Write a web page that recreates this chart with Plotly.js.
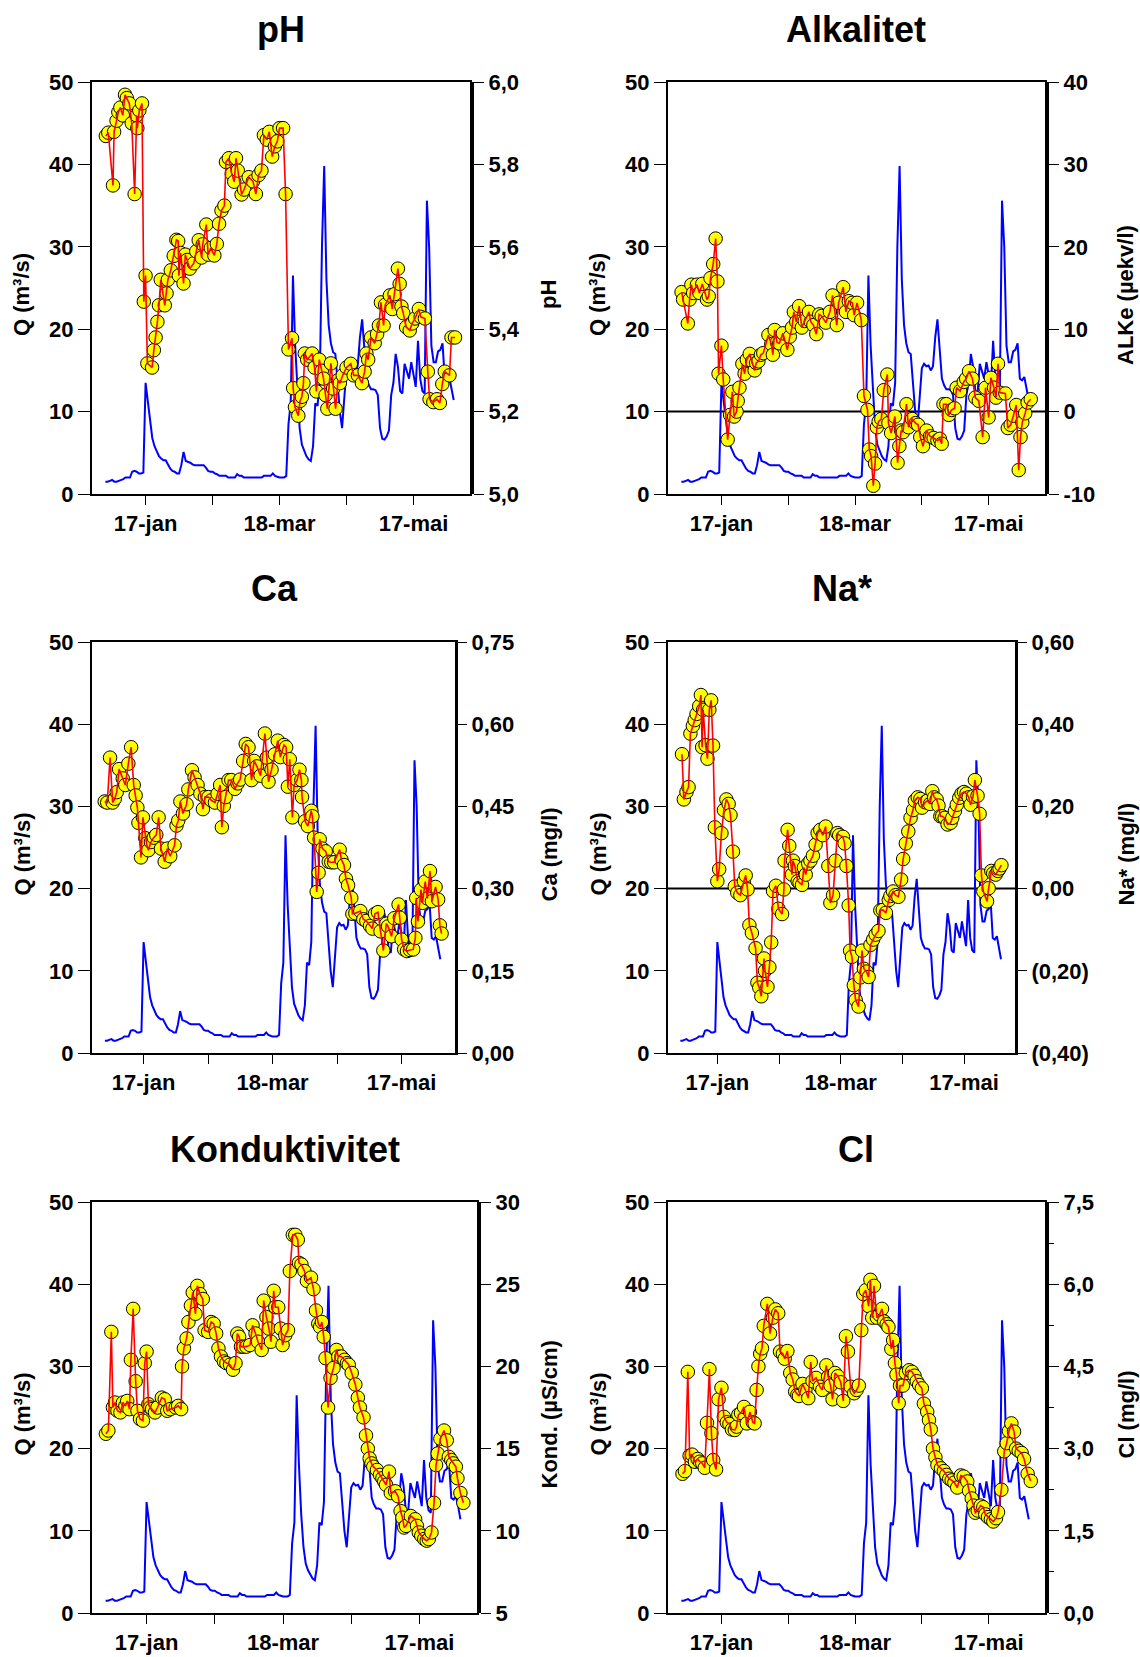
<!DOCTYPE html>
<html><head><meta charset="utf-8">
<script src="https://cdn.plot.ly/plotly-3.0.1.min.js"></script>
<style>body{margin:0;background:#fff}#chart{width:1140px;height:1657px}</style>
</head><body><div id="chart"></div>
<script>
// ---------------- DATA ----------------
// x values are day numbers counted from 1 January (17 = 17-jan, 77 = 18-mar, 137 = 17-mai)
const xTickVals = [17, 47, 77, 107, 137];
const xTickText = ['17-jan', '', '18-mar', '', '17-mai'];

// Daily discharge Q (m3/s), first day = 30 December (day -1)
const qFirstDay = -1;
const qVal = [1.5,1.5,1.6,1.7,1.5,1.5,1.6,1.7,1.8,2.0,
  2.0,2.0,2.7,2.8,2.7,2.5,2.5,2.6,13.5,11.0,
  8.7,6.8,5.8,5.2,4.6,4.3,4.1,4.1,3.5,3.1,
  2.8,2.7,2.5,2.5,3.5,5.1,4.0,3.9,3.8,3.6,
  3.5,3.5,3.5,3.5,3.5,3.2,2.8,2.7,2.7,2.5,
  2.4,2.2,2.2,2.2,2.2,2.0,2.0,2.0,2.0,2.4,
  2.2,2.2,2.0,2.0,2.0,2.0,2.0,2.0,2.0,2.0,
  2.0,2.2,2.2,2.2,2.2,2.5,2.2,2.1,2.0,2.0,
  2.0,2.2,8.5,11.0,26.5,18.0,12.0,8.0,6.0,5.2,
  4.6,4.2,4.0,5.8,11.0,10.7,13.5,30.0,39.8,26.0,
  20.5,18.3,17.2,17.0,13.5,10.0,8.0,12.0,15.3,15.8,
  15.5,15.6,15.0,15.5,19.0,21.2,17.0,14.0,13.2,12.7,
  12.7,12.6,12.0,8.0,6.7,6.6,7.0,7.7,12.0,13.5,
  17.0,15.5,12.5,12.2,15.8,15.0,14.0,16.0,14.5,13.0,
  18.6,14.0,12.5,12.2,35.6,30.0,18.0,16.0,16.0,17.3,
  17.5,18.3,14.0,13.8,14.2,13.0,11.4];
const qTicks = [0, 10, 20, 30, 40, 50];
const qTickText = ['0', '10', '20', '30', '40', '50'];

const phDay = [-0.8,0.3,2.4,2.9,4.0,4.8,5.7,6.8,7.8,8.6,
  9.7,10.8,12.1,13.0,13.3,14.2,15.4,16.2,17.0,17.8,
  19.9,20.7,21.5,22.3,23.0,23.8,25.6,26.4,27.0,28.3,
  29.6,30.8,31.6,31.9,32.7,34.0,34.8,35.6,36.8,38.6,
  39.7,40.8,42.1,42.6,44.2,45.0,46.2,47.8,48.9,49.9,
  51.0,52.3,53.0,54.3,55.6,56.7,57.5,58.3,60.0,61.1,
  63.2,65.1,66.4,67.6,68.9,70.0,71.3,72.4,73.7,74.9,
  76.0,77.0,78.6,79.7,81.0,82.6,83.1,83.9,85.4,86.2,
  87.0,87.7,88.3,89.4,90.7,91.6,92.7,93.5,94.8,95.9,
  96.7,97.6,98.4,100.0,101.0,102.1,103.2,104.0,105.3,107.0,
  108.9,110.2,112.1,113.9,115.1,115.9,116.7,118.0,119.6,120.7,
  121.5,122.4,123.6,124.3,126.4,127.5,128.5,130.0,130.8,131.6,
  132.4,133.7,135.3,136.4,137.7,139.4,140.2,142.1,143.4,144.2,
  145.9,147.5,148.8,149.9,151.0,153.1,154.0,155.6];
const phVal = [5.869,5.877,5.749,5.879,5.906,5.927,5.938,5.919,5.969,5.961,
  5.948,5.900,5.728,5.919,5.888,5.931,5.948,5.467,5.530,5.317,
  5.307,5.349,5.380,5.418,5.458,5.520,5.458,5.487,5.520,5.543,
  5.578,5.617,5.614,5.530,5.585,5.511,5.581,5.568,5.547,5.560,
  5.589,5.616,5.574,5.606,5.654,5.581,5.597,5.579,5.607,5.656,
  5.688,5.700,5.806,5.815,5.777,5.758,5.815,5.785,5.727,5.739,
  5.769,5.759,5.728,5.774,5.785,5.871,5.860,5.879,5.819,5.844,
  5.856,5.888,5.888,5.728,5.351,5.378,5.257,5.211,5.190,5.226,
  5.236,5.269,5.341,5.326,5.334,5.341,5.307,5.249,5.326,5.299,
  5.280,5.240,5.207,5.317,5.256,5.207,5.276,5.269,5.288,5.307,
  5.316,5.288,5.288,5.269,5.297,5.341,5.326,5.380,5.366,5.388,
  5.409,5.465,5.409,5.459,5.482,5.449,5.485,5.547,5.510,5.455,
  5.439,5.405,5.397,5.414,5.426,5.449,5.430,5.426,5.297,5.230,
  5.223,5.230,5.221,5.267,5.297,5.288,5.380,5.380];
const phTicks = [5.0, 5.2, 5.4, 5.6, 5.8, 6.0];
const phTickText = ['5,0', '5,2', '5,4', '5,6', '5,8', '6,0'];

const alkDay = [-0.9,-0.2,1.9,2.7,3.5,4.3,6.0,7.1,8.4,10.5,
  11.3,12.1,13.3,14.4,15.2,15.7,17.0,17.8,19.8,20.9,
  21.9,22.7,23.8,24.3,25.1,26.4,27.4,28.4,29.7,30.8,
  31.9,32.6,33.6,34.7,35.8,38.1,39.4,40.1,40.9,42.0,
  43.0,44.6,46.6,47.7,48.7,49.5,50.6,51.9,53.1,54.4,
  56.3,57.1,58.3,59.6,60.9,62.0,63.9,65.7,66.9,68.8,
  69.6,71.7,72.9,74.2,75.8,76.6,77.9,79.8,81.0,82.6,
  83.4,84.2,85.2,86.0,86.8,87.6,88.8,89.9,91.5,92.0,
  93.2,94.9,96.1,96.9,97.7,98.5,100.1,101.0,102.6,104.2,
  105.3,106.3,107.5,109.1,110.7,112.3,114.0,115.1,115.9,116.7,
  118.0,119.1,120.4,121.7,122.6,124.2,125.8,126.9,128.2,129.7,
  131.0,132.6,134.3,135.6,137.0,138.0,139.4,140.3,141.2,142.0,
  144.5,145.6,146.9,148.1,149.4,150.5,151.3,152.1,153.4,154.5,155.9];
const alkVal = [14.5,13.6,10.7,13.6,15.4,14.4,15.4,14.4,15.5,13.6,
  14.0,16.2,17.9,21.0,15.8,4.6,8.0,3.9,-3.4,-0.4,
  2.4,-0.6,0.0,1.3,2.9,5.8,4.6,6.3,7.0,6.1,
  5.0,5.9,6.1,6.9,7.1,9.3,8.2,6.9,9.9,8.4,
  8.3,9.5,7.5,9.1,10.2,12.1,10.9,12.8,10.2,11.0,
  12.1,10.9,10.5,9.4,11.8,11.6,10.8,12.1,14.1,10.5,
  13.2,15.1,12.1,13.4,13.2,11.7,13.2,11.1,1.9,0.2,
  -4.6,-5.4,-9.0,-6.3,-1.9,-1.2,-0.9,2.6,4.5,-1.4,
  -2.6,-0.6,-6.2,-4.2,-2.3,-2.5,0.9,-1.9,-0.9,-1.4,
  -1.6,-3.1,-4.2,-2.3,-3.0,-3.2,-3.5,-3.3,-3.9,0.9,
  0.9,-0.4,0.2,0.4,2.9,2.5,3.6,4.0,4.9,4.0,
  1.7,1.3,-3.1,2.9,-0.7,4.1,2.9,1.7,5.8,2.3,
  2.2,-2.0,-1.6,-0.5,0.8,-7.1,-3.1,-1.3,-0.2,1.1,1.5];
const alkTicks = [-10, 0, 10, 20, 30, 40];
const alkTickText = ['-10', '0', '10', '20', '30', '40'];

const caDay = [-1.1,0.1,1.4,2.6,3.6,4.5,5.6,7.3,8.5,9.9,
  11.2,12.4,13.3,14.1,14.6,15.8,16.7,17.8,18.4,19.2,
  20.4,21.7,22.9,24.0,25.1,26.8,28.0,29.4,31.4,32.3,
  33.1,34.1,35.3,37.0,37.8,39.5,40.7,42.1,43.4,44.6,
  45.5,47.2,48.5,50.2,51.4,52.6,53.4,54.3,55.1,56.5,
  57.8,59.5,60.7,61.9,63.3,64.5,65.8,67.2,68.4,69.7,
  71.4,73.4,74.3,75.1,76.5,78.0,79.4,80.6,82.3,83.3,
  84.1,85.0,86.2,87.0,88.4,89.5,90.4,90.7,92.1,93.4,
  95.0,95.5,96.3,97.5,98.4,98.9,100.2,101.7,103.1,104.3,
  105.6,108.2,109.0,110.2,111.1,112.1,113.6,114.1,115.5,117.8,
  119.2,120.6,122.3,123.4,124.6,126.0,127.2,128.5,129.9,130.7,
  132.3,133.6,135.6,136.2,137.0,138.2,139.5,140.9,142.4,143.4,
  143.8,144.6,146.0,146.7,148.0,149.0,150.2,151.1,152.8,154.0,154.8,155.6];
const caVal = [0.459,0.457,0.539,0.457,0.464,0.476,0.518,0.501,0.489,0.528,
  0.558,0.489,0.470,0.448,0.420,0.357,0.430,0.392,0.382,0.370,
  0.385,0.393,0.398,0.430,0.373,0.349,0.373,0.359,0.379,0.415,
  0.424,0.459,0.437,0.454,0.481,0.516,0.503,0.489,0.473,0.445,
  0.467,0.467,0.461,0.457,0.473,0.489,0.412,0.451,0.467,0.498,
  0.498,0.482,0.492,0.499,0.533,0.564,0.558,0.498,0.533,0.523,
  0.506,0.583,0.539,0.495,0.517,0.545,0.570,0.540,0.562,0.558,
  0.486,0.536,0.430,0.489,0.498,0.517,0.498,0.467,0.423,0.414,
  0.442,0.432,0.393,0.294,0.329,0.390,0.373,0.368,0.349,0.348,
  0.348,0.371,0.353,0.343,0.318,0.306,0.283,0.254,0.255,0.259,
  0.244,0.241,0.232,0.227,0.254,0.257,0.222,0.187,0.236,0.231,
  0.213,0.246,0.271,0.247,0.207,0.189,0.186,0.188,0.189,0.210,
  0.283,0.240,0.298,0.274,0.313,0.282,0.332,0.277,0.303,0.280,0.233,0.218];
const caTicks = [0, 0.15, 0.30, 0.45, 0.60, 0.75];
const caTickText = ['0,00', '0,15', '0,30', '0,45', '0,60', '0,75'];

const naDay = [-0.2,0.7,2.0,3.0,3.9,5.1,6.0,6.9,8.2,9.0,
  9.6,10.1,11.3,12.2,13.1,14.0,14.9,15.8,17.0,17.9,
  19.0,20.2,21.4,22.5,23.4,24.6,25.5,26.7,28.2,29.9,
  30.8,31.7,32.6,33.8,35.6,36.5,37.4,38.4,39.7,40.2,
  41.4,42.3,43.2,44.1,45.5,46.7,48.5,49.4,49.7,51.2,
  52.0,53.3,53.8,54.7,56.1,57.0,58.2,59.1,60.0,61.2,
  62.3,63.5,64.8,65.8,67.1,68.3,69.7,71.0,72.0,73.3,
  74.5,75.4,76.3,78.1,78.9,79.8,80.9,81.6,82.5,83.4,
  84.3,85.7,86.6,87.4,88.3,89.6,90.6,91.5,92.8,94.0,
  95.4,96.3,97.5,99.0,100.4,101.2,102.5,103.7,105.1,106.4,
  107.4,108.7,109.9,111.0,112.2,113.1,114.5,115.8,116.6,118.1,
  119.3,120.5,121.6,122.5,123.7,124.6,125.5,126.4,127.6,129.0,
  130.5,131.3,132.6,133.5,134.7,135.8,137.0,138.2,139.3,140.2,
  141.4,142.3,143.6,144.6,145.5,146.4,148.2,149.0,150.3,151.2,
  152.4,153.5,154.3,155.2];
const naVal = [0.327,0.217,0.235,0.247,0.377,0.396,0.410,0.425,0.444,0.471,
  0.344,0.435,0.349,0.316,0.435,0.458,0.348,0.149,0.018,0.047,
  0.135,0.191,0.217,0.206,0.179,0.090,0.005,-0.010,-0.016,0.018,
  0.032,-0.002,-0.089,-0.108,-0.145,-0.229,-0.241,-0.262,-0.170,-0.200,
  -0.239,-0.191,-0.131,-0.006,0.007,-0.049,-0.062,-0.002,0.068,0.143,
  0.104,0.034,0.068,0.055,0.018,0.014,0.009,0.051,0.034,0.061,
  0.068,0.080,0.107,0.135,0.143,0.130,0.151,0.055,-0.035,-0.016,
  0.068,0.135,0.130,0.126,0.110,0.055,-0.041,-0.151,-0.166,-0.235,
  -0.271,-0.287,-0.216,-0.151,-0.195,-0.202,-0.215,-0.137,-0.124,-0.112,
  -0.103,-0.053,-0.052,-0.059,-0.028,-0.018,-0.007,-0.016,-0.020,0.022,
  0.072,0.110,0.139,0.172,0.191,0.214,0.222,0.218,0.197,0.210,
  0.214,0.206,0.237,0.222,0.217,0.202,0.176,0.176,0.172,0.156,
  0.160,0.172,0.189,0.204,0.221,0.231,0.235,0.231,0.222,0.204,
  0.224,0.264,0.226,0.182,0.032,-0.007,-0.031,0.001,0.043,0.037,
  0.034,0.043,0.049,0.057];
const naTicks = [-0.40, -0.20, 0, 0.20, 0.40, 0.60];
const naTickText = ['(0,40)', '(0,20)', '0,00', '0,20', '0,40', '0,60'];

const kondDay = [-0.9,0.2,1.5,2.2,3.1,4.2,5.5,6.6,7.7,8.5,
  9.5,10.1,11.1,12.2,13.0,14.1,15.4,16.2,17.0,17.8,
  18.6,19.4,20.7,21.8,23.7,25.0,26.1,27.4,29.8,30.9,
  32.2,32.6,33.4,34.6,35.4,36.5,37.3,38.5,39.3,40.5,
  41.7,42.5,44.1,45.4,46.5,47.6,48.6,49.7,51.0,52.1,
  53.7,55.0,56.1,56.9,57.7,58.5,59.6,60.9,62.5,63.6,
  64.9,66.0,67.6,68.5,69.7,70.8,71.7,72.9,73.6,74.9,
  76.0,76.8,78.0,79.2,80.0,81.3,82.4,83.5,84.0,85.1,
  86.4,87.5,89.3,90.4,91.5,92.5,93.3,94.1,94.9,95.7,
  96.8,97.9,99.2,100.5,101.3,102.7,104.0,105.1,105.9,107.2,
  108.8,109.9,110.8,112.4,113.5,114.3,115.1,115.9,116.7,118.3,
  119.6,120.7,121.5,122.3,123.6,124.4,126.3,127.6,128.7,129.5,
  130.3,131.1,133.2,135.1,135.9,136.7,137.8,139.1,140.2,141.1,
  142.3,143.4,144.3,145.0,146.2,147.8,149.0,149.9,151.0,151.8,
  153.0,153.7,155.0,156.3];
const kondVal = [15.9,16.1,22.1,17.5,17.8,17.3,17.2,17.8,17.6,17.9,
  17.4,20.4,23.5,19.1,17.3,16.8,16.7,20.2,20.9,17.7,
  17.5,17.4,17.2,17.5,18.1,18.0,17.3,17.4,17.5,17.6,
  17.4,20.0,21.1,21.7,22.7,23.7,24.5,23.2,24.9,24.4,
  24.1,22.2,22.1,22.7,22.6,22.0,21.1,20.6,20.3,20.2,
  20.1,19.8,20.2,22.0,21.8,21.2,21.2,21.2,21.3,22.5,
  22.0,21.5,21.0,24.0,23.0,22.3,21.5,24.6,23.6,23.6,
  22.3,21.3,21.9,22.2,25.8,28.0,28.0,27.7,26.3,26.2,
  25.8,25.2,25.4,24.7,23.4,22.6,22.4,22.7,21.8,20.5,
  17.5,19.3,19.9,21.0,20.6,20.6,20.4,20.2,20.1,19.6,
  18.9,18.1,17.5,16.9,15.8,15.0,14.4,14.1,13.9,13.7,
  13.4,13.2,13.0,12.8,13.6,12.3,12.4,12.1,11.2,10.8,
  10.2,10.3,10.9,10.7,10.3,9.9,9.7,9.5,9.4,9.5,
  9.9,11.7,14.0,14.7,15.6,16.1,15.5,14.5,14.3,14.1,
  13.9,13.2,12.3,11.7];
const kondTicks = [5, 10, 15, 20, 25, 30];
const kondTickText = ['5', '10', '15', '20', '25', '30'];

const clDay = [-0.5,0.6,1.9,2.7,3.8,5.1,6.3,7.3,8.4,9.5,
  10.5,11.6,12.5,13.3,14.6,15.7,17.0,18.1,19.4,20.6,
  21.7,23.0,23.8,24.6,25.8,27.1,28.4,29.8,31.1,31.9,
  32.8,33.6,34.4,35.2,36.0,37.6,38.8,40.1,41.2,42.5,
  43.3,44.6,45.4,46.6,47.9,49.0,50.1,51.1,51.8,53.4,
  54.7,56.0,57.1,57.9,59.5,61.2,62.3,64.1,64.9,66.0,
  66.9,68.0,69.3,70.6,71.7,72.9,73.8,75.0,76.6,77.7,
  78.7,79.8,80.7,81.8,83.1,83.9,84.7,85.5,86.8,88.0,
  89.1,90.1,91.2,92.0,93.3,94.1,94.9,95.6,96.6,97.2,
  98.5,99.8,101.3,102.6,103.7,104.7,105.8,107.0,107.9,109.4,
  110.2,111.0,112.0,113.1,114.0,115.6,116.9,118.0,119.3,120.4,
  121.6,122.9,124.5,125.8,127.4,128.2,129.4,130.2,131.0,132.1,
  133.4,134.6,135.5,136.7,138.0,139.1,140.3,141.2,142.7,144.0,
  145.1,146.1,147.2,148.4,149.3,150.5,151.8,152.9,154.5,155.9];
const clVal = [2.54,2.59,4.40,2.87,2.89,2.76,2.81,2.76,2.73,2.65,
  3.47,4.45,3.28,2.79,2.62,3.90,4.11,3.58,3.48,3.45,
  3.35,3.34,3.40,3.62,3.65,3.76,3.46,3.67,3.48,3.46,
  4.07,4.50,4.73,4.83,5.24,5.64,5.10,5.39,5.54,5.47,
  4.77,4.73,4.64,4.78,4.38,4.26,4.04,3.98,3.96,4.18,
  4.07,3.92,4.58,4.23,4.29,4.13,4.07,4.52,4.31,4.15,
  3.90,4.38,4.32,4.21,3.87,5.05,4.77,4.13,4.01,4.07,
  4.15,5.16,5.82,5.89,5.60,6.08,5.39,5.97,5.39,5.44,
  5.55,5.32,5.27,5.22,4.82,4.98,4.56,4.35,3.83,4.15,
  4.15,4.38,4.43,4.40,4.33,4.23,4.16,4.10,3.82,3.67,
  3.52,3.35,3.00,2.84,2.70,2.64,2.59,2.52,2.45,2.42,
  2.38,2.29,2.51,2.49,2.40,2.23,2.09,1.96,1.83,1.87,
  1.96,1.93,1.80,1.75,1.71,1.67,1.73,1.84,2.25,2.95,
  3.10,3.32,3.46,3.31,3.00,2.96,2.92,2.81,2.54,2.41];
const clTicks = [0, 1.5, 3.0, 4.5, 6.0, 7.5];
const clTickText = ['0,0', '1,5', '3,0', '4,5', '6,0', '7,5'];

const panelTitles = ['pH', 'Alkalitet', 'Ca', 'Na*', 'Konduktivitet', 'Cl'];
const rightTitles = ['pH', 'ALKe (µekv/l)', 'Ca (mg/l)', 'Na* (mg/l)', 'Kond. (µS/cm)', 'Cl (mg/l)'];
const leftTitle = 'Q (m³/s)';

// ---------------- LAYOUT ----------------
const W = 1140, H = 1657;
const FONT = '"Liberation Sans", Arial, Helvetica, sans-serif';
// pixel boxes of the six plot areas; ra = x of the right axis line, rt = x of right title
const boxes = [
  {l: 92,  r: 470,  t: 82,   b: 494,  ra: 473,  rt: 549},
  {l: 668, r: 1045, t: 82,   b: 494,  ra: 1048, rt: 1126},
  {l: 92,  r: 456,  t: 642,  b: 1053, ra: 456,  rt: 549},
  {l: 668, r: 1016, t: 642,  b: 1053, ra: 1016, rt: 1126},
  {l: 92,  r: 477,  t: 1202, b: 1613, ra: 480,  rt: 549},
  {l: 668, r: 1045, t: 1202, b: 1613, ra: 1048, rt: 1126}
];
const series = [
  {day: phDay,   val: phVal,   ticks: phTicks,   text: phTickText,   range: [5.0, 6.0]},
  {day: alkDay,  val: alkVal,  ticks: alkTicks,  text: alkTickText,  range: [-10, 40], zero: true},
  {day: caDay,   val: caVal,   ticks: caTicks,   text: caTickText,   range: [0, 0.75]},
  {day: naDay,   val: naVal,   ticks: naTicks,   text: naTickText,   range: [-0.40, 0.60], zero: true},
  {day: kondDay, val: kondVal, ticks: kondTicks, text: kondTickText, range: [5, 30]},
  {day: clDay,   val: clVal,   ticks: clTicks,   text: clTickText,   range: [0, 7.5], minor: 0.75}
];

const qDay = qVal.map((_, i) => qFirstDay + i);
const tickFont = {family: FONT, size: 22, color: '#000', weight: 'bold'};

const traces = [];
const layout = {
  width: W, height: H,
  margin: {l: 0, r: 0, t: 0, b: 0},
  paper_bgcolor: '#ffffff', plot_bgcolor: '#ffffff',
  showlegend: false,
  separators: ',.',
  font: {family: FONT, color: '#000'},
  annotations: [], shapes: []
};

boxes.forEach((bx, i) => {
  const n = i + 1;
  const xs = n === 1 ? '' : String(n);
  const xId = 'x' + xs, yId = 'y' + xs, yrId = 'y' + (n + 6);
  const s = series[i];

  layout['xaxis' + xs] = {
    domain: [bx.l / W, bx.r / W], anchor: yId,
    range: [-7, 162.3], tickmode: 'array', tickvals: xTickVals, ticktext: xTickText,
    ticks: 'outside', ticklen: 9, tickwidth: 1, tickcolor: '#000',
    showline: true, linewidth: 2, linecolor: '#000', mirror: true,
    showgrid: false, zeroline: false, tickfont: tickFont, fixedrange: true
  };
  layout['yaxis' + xs] = {
    domain: [1 - bx.b / H, 1 - bx.t / H], anchor: xId,
    range: [0, 50], tickmode: 'array', tickvals: qTicks, ticktext: qTickText,
    ticks: 'outside', ticklen: 12, tickwidth: 1, tickcolor: '#000',
    showline: true, linewidth: 2, linecolor: '#000', mirror: true,
    showgrid: false, zeroline: false, tickfont: tickFont, fixedrange: true
  };
  const ry = {
    overlaying: yId, side: 'right', anchor: 'free', position: bx.ra / W,
    range: s.range, tickmode: 'array', tickvals: s.ticks, ticktext: s.text,
    ticks: 'outside', ticklen: 10, tickwidth: 1, tickcolor: '#000',
    showline: true, linewidth: 2, linecolor: '#000',
    showgrid: false, zeroline: false, tickfont: tickFont, fixedrange: true
  };
  if (s.minor) {
    ry.minor = {tickmode: 'linear', tick0: s.range[0], dtick: s.minor, ticks: 'outside',
                ticklen: 5, tickwidth: 1, tickcolor: '#000', showgrid: false};
  }
  layout['yaxis' + (n + 6)] = ry;

  // discharge
  traces.push({x: qDay, y: qVal, xaxis: xId, yaxis: yId, type: 'scatter', mode: 'lines',
               line: {color: '#0000ff', width: 2}, hoverinfo: 'skip'});
  // chemistry symbols, then the connecting line on top
  traces.push({x: s.day, y: s.val, xaxis: xId, yaxis: yrId, type: 'scatter', mode: 'markers',
               marker: {size: 13.5, color: '#ffff00', line: {color: '#000', width: 1}}, hoverinfo: 'skip'});
  traces.push({x: s.day, y: s.val, xaxis: xId, yaxis: yrId, type: 'scatter', mode: 'lines',
               line: {color: '#ff0000', width: 1.6}, hoverinfo: 'skip'});

  if (s.zero) {
    layout.shapes.push({type: 'line', xref: xId + ' domain', x0: 0, x1: 1, yref: yrId, y0: 0, y1: 0,
                        line: {color: '#000', width: 2}, layer: 'below'});
  }

  const midY = (bx.t + bx.b) / 2 + 7;
  layout.annotations.push({
    text: panelTitles[i], xref: 'paper', yref: 'paper',
    x: (bx.l + bx.r) / 2 / W, y: 1 - (bx.t - 53) / H, xanchor: 'center', yanchor: 'middle',
    showarrow: false, font: {family: FONT, size: 36, color: '#000', weight: 'bold'}
  });
  layout.annotations.push({
    text: leftTitle, xref: 'paper', yref: 'paper',
    x: (bx.l - 70) / W, y: 1 - midY / H, xanchor: 'center', yanchor: 'middle', textangle: -90,
    showarrow: false, font: {family: FONT, size: 22, color: '#000', weight: 'bold'}
  });
  layout.annotations.push({
    text: rightTitles[i], xref: 'paper', yref: 'paper',
    x: bx.rt / W, y: 1 - midY / H, xanchor: 'center', yanchor: 'middle', textangle: -90,
    showarrow: false, font: {family: FONT, size: 22, color: '#000', weight: 'bold'}
  });
});

Plotly.newPlot('chart', traces, layout, {staticPlot: true, displayModeBar: false});
</script></body></html>
